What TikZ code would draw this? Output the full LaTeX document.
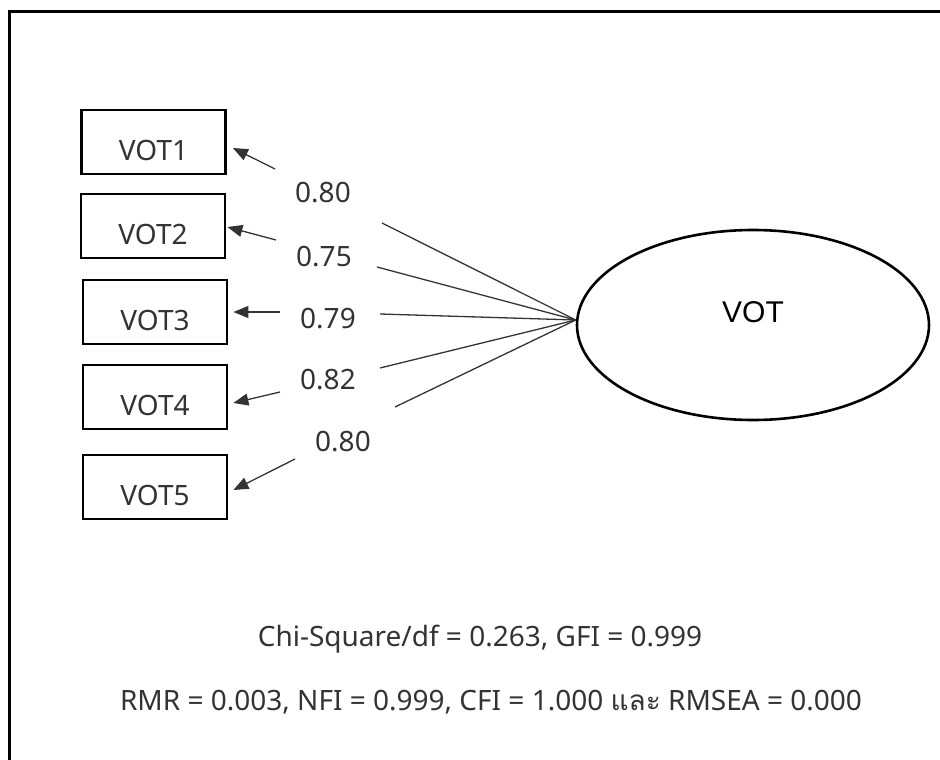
\documentclass[tikz,border=0pt]{standalone}
\usepackage{fontspec}
\setmainfont{Noto Sans}
\newfontfamily\thaifont[Script=Thai]{Loma}
\newfontfamily\arialfont{Liberation Sans}
\usetikzlibrary{shapes.geometric,arrows.meta,calc}
\definecolor{ink}{HTML}{333333}
\begin{document}
\begin{tikzpicture}[x=1pt,y=-1pt,
  obsbox/.style={draw=black,line width=2.8pt,minimum width=144pt,minimum height=64pt,
    inner sep=0pt,text height=50pt,text depth=14pt,font=\fontsize{28}{32}\selectfont,text=ink},
  latent/.style={draw=black,ellipse,line width=2.6pt,minimum width=352pt,minimum height=190pt,
    inner sep=0pt,text height=22pt,text depth=28pt,font=\arialfont\fontsize{30}{34}\selectfont},
  loadline/.style={draw=ink,line width=1.3pt},
  loadarrow/.style={loadline,-{Triangle[length=15pt,width=12pt]}},
  coef/.style={font=\fontsize{28}{32}\selectfont,text=ink,inner sep=0pt},
  fitline/.style={font=\fontsize{28}{32}\selectfont,text=ink,inner sep=0pt,anchor=base}]
\useasboundingbox (0,0) rectangle (940,760);
% outer frame (runs off the right and bottom edges)
\draw[line width=2.2pt] (9.5,760) -- (9.5,11.5) -- (940,11.5);

% indicators
\node[obsbox] (v1) at (153.5,142) {VOT1};
\node[obsbox] (v2) at (153,226) {VOT2};
\node[obsbox] (v3) at (155,312) {VOT3};
\node[obsbox] (v4) at (155,397) {VOT4};
\node[obsbox] (v5) at (155,487) {VOT5};

% latent factor
\node[latent] (lat) at (753,325) {VOT};
\coordinate (hub) at ([yshift=5pt]lat.west);

% arrow tips at the indicators
\coordinate (t1) at ($(v1.east)+(6,6)$);
\coordinate (t2) at ($(v2.east)+(1,1)$);
\coordinate (t3) at ($(v3.east)+(5,0)$);
\coordinate (t4) at ($(v4.east)+(5,6)$);
\coordinate (t5) at ($(v5.east)+(5,3)$);

% gaps left for the loadings
\coordinate (a1) at (382,223); \coordinate (b1) at (275,169);
\coordinate (a2) at (377,267); \coordinate (b2) at (276,240);
\coordinate (a3) at (380,314); \coordinate (b3) at (280,312);
\coordinate (a4) at (380,368); \coordinate (b4) at (280,392);
\coordinate (a5) at (395,407); \coordinate (b5) at (295,459);

\foreach \i in {1,...,5}{
  \draw[loadline] (hub) -- (a\i);
  \draw[loadarrow] (b\i) -- (t\i);
}

% factor loadings
\node[coef] (l1) at (323,193) {0.80};
\node[coef] (l2) at (324,257) {0.75};
\node[coef] (l3) at (328,319) {0.79};
\node[coef] (l4) at (328,380) {0.82};
\node[coef] (l5) at (343,442) {0.80};

% fit indices
\node[fitline] (fit1) at (480,646) {Chi-Square/df = 0.263, GFI = 0.999};
\node[fitline] (fit2) at (491,710) {RMR = 0.003, NFI = 0.999, CFI = 1.000 {\thaifont และ} RMSEA = 0.000};
\end{tikzpicture}
\end{document}
